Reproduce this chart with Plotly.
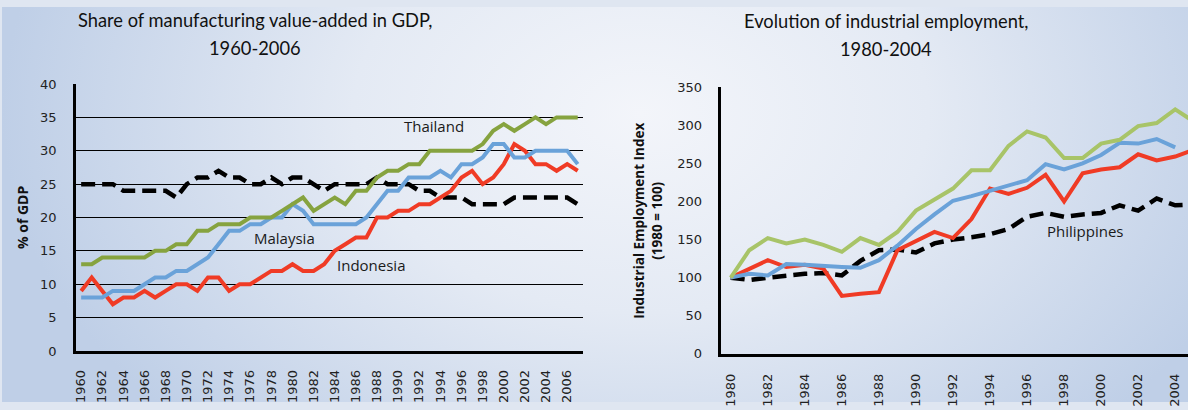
import base64
import plotly.graph_objects as go

# ---------------- Left chart data (share of manufacturing in GDP, %) ----------------
years_left = list(range(1960, 2008))
thailand_gdp = [13, 13, 14, 14, 14, 14, 14, 15, 15, 16, 16, 18, 18, 19, 19, 19, 20, 20, 20, 21,
                22, 23, 21, 22, 23, 22, 24, 24, 26, 27, 27, 28, 28, 30, 30, 30, 30, 30, 31, 33,
                34, 33, 34, 35, 34, 35, 35, 35]
malaysia_gdp = [8, 8, 8, 9, 9, 9, 10, 11, 11, 12, 12, 13, 14, 16, 18, 18, 19, 19, 20, 20,
                22, 21, 19, 19, 19, 19, 19, 20, 22, 24, 24, 26, 26, 26, 27, 26, 28, 28, 29, 31,
                31, 29, 29, 30, 30, 30, 30, 28]
indonesia_gdp = [9, 11, 9, 7, 8, 8, 9, 8, 9, 10, 10, 9, 11, 11, 9, 10, 10, 11, 12, 12,
                 13, 12, 12, 13, 15, 16, 17, 17, 20, 20, 21, 21, 22, 22, 23, 24, 26, 27, 25, 26,
                 28, 31, 30, 28, 28, 27, 28, 27]
philippines_gdp = [25, 25, 25, 25, 24, 24, 24, 24, 24, 23, 25, 26, 26, 27, 26, 26, 25, 25, 26, 25,
                   26, 26, 25, 24, 25, 25, 25, 25, 26, 25, 25, 25, 24, 24, 23, 23, 23, 22, 22, 22,
                   22, 23, 23, 23, 23, 23, 23, 22]
left_ticks = [str(y) for y in range(1960, 2008, 2)]

# ---------------- Right chart data (industrial employment index, 1980 = 100) ----------------
years_right = list(range(1980, 2006))
thailand_emp = [100, 136, 152, 145, 150, 143, 134, 152, 143, 160, 188, 202, 217, 241, 241, 273,
                292, 284, 257, 257, 276, 281, 299, 303, 321, 305]
malaysia_emp = [100, 105, 103, 118, 117, 115, 114, 113, 123, 142, 164, 183, 201, 207, 214, 220,
                228, 249, 242, 250, 261, 277, 276, 282, 271, None]
indonesia_emp = [100, 112, 123, 114, 117, 112, 76, 79, 81, 136, 148, 160, 152, 177, 217, 210,
                 218, 235, 200, 237, 242, 245, 262, 254, 259, 268]
philippines_emp = [100, 97, 100, 103, 105, 106, 103, 122, 136, 137, 133, 145, 150, 153, 157, 164,
                   180, 185, 180, 183, 185, 195, 188, 204, 195, 196]
right_ticks = list(range(1980, 2005, 2))

W, H = 1188, 410
def px(x):
    return x / W
def py(y):
    return 1 - y / H

GREEN_L = "#86a33f"
GREEN_R = "#a8c468"
BLUE = "#6aa2d9"
RED = "#f03b25"
BLACK = "#000000"
DASH = "14px,7px"

fig = go.Figure()
xl = [str(y) for y in years_left]
fig.add_trace(go.Scatter(x=xl, y=philippines_gdp, mode="lines", line=dict(color=BLACK, width=4.5, dash=DASH), xaxis="x", yaxis="y", showlegend=False))
fig.add_trace(go.Scatter(x=xl, y=indonesia_gdp, mode="lines", line=dict(color=RED, width=4), xaxis="x", yaxis="y", showlegend=False))
fig.add_trace(go.Scatter(x=xl, y=malaysia_gdp, mode="lines", line=dict(color=BLUE, width=4), xaxis="x", yaxis="y", showlegend=False))
fig.add_trace(go.Scatter(x=xl, y=thailand_gdp, mode="lines", line=dict(color=GREEN_L, width=4), xaxis="x", yaxis="y", showlegend=False))

fig.add_trace(go.Scatter(x=years_right, y=philippines_emp, mode="lines", line=dict(color=BLACK, width=4.5, dash=DASH), xaxis="x2", yaxis="y2", showlegend=False))
fig.add_trace(go.Scatter(x=years_right, y=indonesia_emp, mode="lines", line=dict(color=RED, width=4), xaxis="x2", yaxis="y2", showlegend=False))
fig.add_trace(go.Scatter(x=years_right, y=malaysia_emp, mode="lines", line=dict(color=BLUE, width=4), xaxis="x2", yaxis="y2", showlegend=False))
fig.add_trace(go.Scatter(x=years_right, y=thailand_emp, mode="lines", line=dict(color=GREEN_R, width=4), xaxis="x2", yaxis="y2", showlegend=False))

tickfont = dict(family="DejaVu Sans", size=13, color="#222222")

# background gradient
svg = f'''<svg xmlns="http://www.w3.org/2000/svg" width="{W}" height="{H}" viewBox="0 0 {W} {H}" preserveAspectRatio="none">
<defs><radialGradient id="g" gradientUnits="userSpaceOnUse" cx="640" cy="110" r="640" gradientTransform="translate(640 110) scale(1 0.72) translate(-640 -110)">
<stop offset="0" stop-color="#f3f5fa"/><stop offset="0.45" stop-color="#e4eaf4"/><stop offset="1" stop-color="#bfcfe7"/></radialGradient></defs>
<rect x="0" y="0" width="{W}" height="{H}" fill="url(#g)"/></svg>'''
src = "data:image/svg+xml;base64," + base64.b64encode(svg.encode()).decode()

fig.update_layout(
    width=W, height=H, autosize=False,
    margin=dict(l=0, r=0, t=0, b=0),
    paper_bgcolor="#dfe6f1",
    plot_bgcolor="rgba(0,0,0,0)",
    images=[dict(source=src, xref="paper", yref="paper", x=0, y=1, sizex=1, sizey=1,
                 sizing="stretch", xanchor="left", yanchor="top", layer="below")],
    xaxis=dict(domain=[px(74), px(582)], anchor="y", type="category",
               categoryorder="array", categoryarray=xl,
               range=[-0.5, len(xl) - 0.5], tickmode="array", tickvals=left_ticks, ticktext=left_ticks,
               tickangle=-90, tickfont=tickfont, showgrid=False, showline=True, linecolor="black",
               linewidth=2.5, ticks="", ticklabelstandoff=11, zeroline=False),
    yaxis=dict(domain=[py(357), py(80)], anchor="x", range=[0, 40], dtick=5, tickfont=tickfont,
               showgrid=True, gridcolor="black", gridwidth=1, showline=True, linecolor="black",
               linewidth=2.5, ticks="", ticklabelstandoff=14, zeroline=False),
    xaxis2=dict(domain=[px(720.7), 1], anchor="y2", range=[1979.5, 1979.5 + (W - 720.7) / 18.55],
                tickmode="array", tickvals=right_ticks, tickangle=-90, tickfont=tickfont,
                showgrid=False, showline=True, linecolor="black", linewidth=2.5, ticks="",
                ticklabelstandoff=12, zeroline=False),
    yaxis2=dict(domain=[py(360), py(83.3)], anchor="x2", range=[0, 350], dtick=50, tickfont=tickfont,
                showgrid=False, showline=True, linecolor="black", linewidth=2.5, ticks="",
                ticklabelstandoff=14, zeroline=False),
)

ann_font = dict(family="Open Sans", size=15, color="#1a1a1a")
title_font = dict(family="Lato", size=18.3, color="#111111")
annotations = [
    dict(text="Share of manufacturing value-added in GDP,", x=px(253), y=py(14)),
    dict(text="1960-2006", x=px(253), y=py(43)),
    dict(text="Evolution of industrial employment,", x=px(885), y=py(15)),
    dict(text="1980-2004", x=px(885), y=py(44)),
]
anns = []
for a in annotations:
    anns.append(dict(text=a["text"], x=a["x"], y=a["y"], xref="paper", yref="paper",
                     showarrow=False, font=title_font, xanchor="center", yanchor="middle"))
for text, x, y in [("Thailand", 433, 124), ("Malaysia", 283, 240), ("Indonesia", 370, 268), ("Philippines", 1085, 232)]:
    anns.append(dict(text=text, x=px(x), y=py(y), xref="paper", yref="paper", showarrow=False,
                     font=ann_font, xanchor="center", yanchor="middle"))
anns.append(dict(text="<b>% of GDP</b>", x=px(20), y=py(218), xref="paper", yref="paper", showarrow=False,
                 textangle=-90, font=dict(family="Open Sans", size=14, color="#111111"),
                 xanchor="center", yanchor="middle"))
anns.append(dict(text="<b>Industrial Employment Index<br>(1980 = 100)</b>", x=px(647), y=py(222), xref="paper",
                 yref="paper", showarrow=False, textangle=-90,
                 font=dict(family="Open Sans", size=13.5, color="#111111"), xanchor="center", yanchor="middle"))
fig.update_layout(annotations=anns)

post = ("document.documentElement.style.margin='0';document.body.style.margin='0';"
        "document.body.style.padding='0';document.body.style.overflow='hidden';"
        "var gd=document.getElementById('{plot_id}');"
        "Plotly.relayout(gd,{width:%d,height:%d,autosize:false});" % (W, H))
fig.write_html("out.html", config={"responsive": False, "displayModeBar": False}, post_script=post)
